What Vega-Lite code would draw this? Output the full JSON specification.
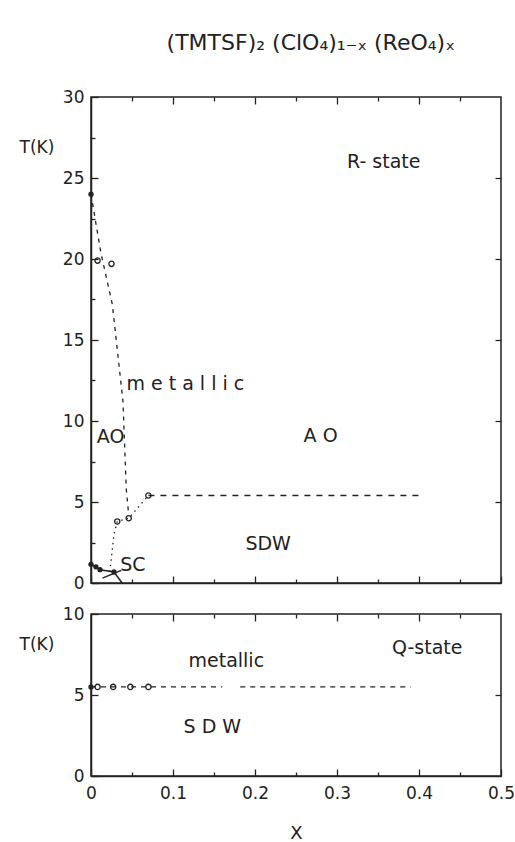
{
  "$schema": "https://vega.github.io/schema/vega-lite/v6.json",
  "background": "white",
  "padding": {"left": 18, "top": 32, "right": 10, "bottom": 0},
  "spacing": 12,
  "title": {"text": "(TMTSF)₂ (ClO₄)₁₋ₓ (ReO₄)ₓ", "fontSize": 22, "fontWeight": "normal", "font": "DejaVu Sans", "color": "#222", "anchor": "middle", "dx": 44, "offset": 32},
  "config": {
    "font": "DejaVu Sans",
    "view": {"stroke": "#222", "strokeWidth": 1.5},
    "axis": {"zindex": 1, "domainColor": "#222", "domainWidth": 1.5, "tickColor": "#222", "tickWidth": 1.3, "labelFontSize": 17, "labelColor": "#222", "grid": false, "titleFontWeight": "normal", "titleFontSize": 17, "titleColor": "#222", "labelBound": false, "labelFlush": false, "labelOverlap": false}
  },
  "datasets": {
    "lines": [
      {"curve": "ao", "x": 0, "T": 24},
      {"curve": "ao", "x": 0.012, "T": 20.4},
      {"curve": "ao", "x": 0.026, "T": 17.2},
      {"curve": "ao", "x": 0.039, "T": 11.2},
      {"curve": "ao", "x": 0.043, "T": 5.8},
      {"curve": "ao", "x": 0.046, "T": 4.2},
      {"curve": "sdwdot", "x": 0.023, "T": 0.7},
      {"curve": "sdwdot", "x": 0.028, "T": 3.0},
      {"curve": "sdwdot", "x": 0.032, "T": 3.8},
      {"curve": "sdwdot", "x": 0.046, "T": 4.0},
      {"curve": "sdwdot", "x": 0.07, "T": 5.4},
      {"curve": "sdwdash", "x": 0.07, "T": 5.4},
      {"curve": "sdwdash", "x": 0.4, "T": 5.4},
      {"curve": "sc", "x": 0, "T": 1.15},
      {"curve": "sc", "x": 0.006, "T": 1.0},
      {"curve": "sc", "x": 0.011, "T": 0.82},
      {"curve": "sc", "x": 0.028, "T": 0.68},
      {"curve": "sc", "x": 0.038, "T": 0},
      {"curve": "arrow", "x": 0.014, "T": 0.3},
      {"curve": "arrow", "x": 0.037, "T": 0.78},
      {"curve": "q1", "x": 0, "T": 5.5},
      {"curve": "q1", "x": 0.16, "T": 5.5},
      {"curve": "q2", "x": 0.182, "T": 5.5},
      {"curve": "q2", "x": 0.39, "T": 5.5}
    ],
    "points": [
      {"panel": "R", "kind": "filled", "x": 0, "T": 24},
      {"panel": "R", "kind": "open", "x": 0.008, "T": 19.9},
      {"panel": "R", "kind": "open", "x": 0.025, "T": 19.7},
      {"panel": "R", "kind": "open", "x": 0.032, "T": 3.8},
      {"panel": "R", "kind": "open", "x": 0.046, "T": 4.0},
      {"panel": "R", "kind": "open", "x": 0.07, "T": 5.4},
      {"panel": "R", "kind": "filled", "x": 0, "T": 1.15},
      {"panel": "R", "kind": "filled", "x": 0.006, "T": 1.0},
      {"panel": "R", "kind": "filled", "x": 0.011, "T": 0.82},
      {"panel": "R", "kind": "filled", "x": 0.028, "T": 0.68},
      {"panel": "Q", "kind": "filled", "x": 0, "T": 5.5},
      {"panel": "Q", "kind": "open", "x": 0.008, "T": 5.5},
      {"panel": "Q", "kind": "open", "x": 0.027, "T": 5.5},
      {"panel": "Q", "kind": "open", "x": 0.048, "T": 5.5},
      {"panel": "Q", "kind": "open", "x": 0.07, "T": 5.5}
    ],
    "labels": [
      {"panel": "R", "x": 0.357, "T": 26.0, "text": "R- state"},
      {"panel": "R", "x": 0.115, "T": 12.3, "text": "m  e  t  a  l  l  i  c"},
      {"panel": "R", "x": 0.024, "T": 9.0, "text": "AO"},
      {"panel": "R", "x": 0.28, "T": 9.1, "text": "A O"},
      {"panel": "R", "x": 0.216, "T": 2.4, "text": "SDW"},
      {"panel": "R", "x": 0.051, "T": 1.1, "text": "SC"},
      {"panel": "Q", "x": 0.165, "T": 7.1, "text": "metallic"},
      {"panel": "Q", "x": 0.41, "T": 7.9, "text": "Q-state"},
      {"panel": "Q", "x": 0.148, "T": 3.0, "text": "S D W"}
    ]
  },
  "vconcat": [
    {
      "width": 410,
      "height": 486,
      "resolve": {"axis": {"x": "independent", "y": "independent"}},
      "layer": [
        {
          "data": {"name": "lines"},
          "transform": [{"filter": "datum.curve === 'ao'"}],
          "mark": {"type": "line", "color": "#222", "strokeWidth": 1.3, "strokeDash": [4, 5]},
          "encoding": {
            "x": {"field": "x", "type": "quantitative", "scale": {"domain": [0, 0.5], "nice": false, "zero": false},
              "axis": {"orient": "bottom", "labels": false, "title": null, "minExtent": 0, "maxExtent": 0, "values": [0, 0.05, 0.1, 0.15, 0.2, 0.25, 0.3, 0.35, 0.4, 0.45, 0.5],
                "tickSize": {"condition": {"test": "abs(datum.value*10-round(datum.value*10))<0.001", "value": -7}, "value": -4}}},
            "y": {"field": "T", "type": "quantitative", "scale": {"domain": [0, 30], "nice": false, "zero": false},
              "axis": {"orient": "left", "title": "T(K)", "titleAngle": 0, "titleAlign": "left", "titleBaseline": "middle", "titleX": -72, "titleY": 50,
                "values": [0, 2.5, 5, 7.5, 10, 12.5, 15, 17.5, 20, 22.5, 25, 27.5, 30],
                "labelExpr": "datum.value % 5 === 0 ? datum.label : ''",
                "labelPadding": 14,
                "tickSize": {"condition": {"test": "datum.value % 5 === 0", "value": -7}, "value": -4}}}
          }
        },
        {
          "data": {"name": "lines"},
          "transform": [{"filter": "datum.curve === 'ao'"}],
          "mark": {"type": "point", "opacity": 0},
          "encoding": {
            "x": {"field": "x", "type": "quantitative",
              "axis": {"orient": "top", "labels": false, "title": null, "domain": false, "minExtent": 0, "maxExtent": 0, "values": [0.05, 0.1, 0.15, 0.2, 0.25, 0.3, 0.35, 0.4, 0.45],
                "tickSize": {"condition": {"test": "abs(datum.value*10-round(datum.value*10))<0.001", "value": -7}, "value": -4}}},
            "y": {"field": "T", "type": "quantitative",
              "axis": {"orient": "right", "labels": false, "title": null, "domain": false, "minExtent": 0, "maxExtent": 0, "values": [5, 10, 15, 20, 25], "tickSize": -6}}
          }
        },
        {
          "data": {"name": "lines"},
          "transform": [{"filter": "datum.curve === 'sdwdot'"}],
          "mark": {"type": "line", "color": "#222", "strokeWidth": 1.3, "strokeDash": [1.5, 4]},
          "encoding": {"x": {"field": "x", "type": "quantitative", "axis": null}, "y": {"field": "T", "type": "quantitative", "axis": null}}
        },
        {
          "data": {"name": "lines"},
          "transform": [{"filter": "datum.curve === 'sdwdash'"}],
          "mark": {"type": "line", "color": "#222", "strokeWidth": 1.3, "strokeDash": [6, 6]},
          "encoding": {"x": {"field": "x", "type": "quantitative", "axis": null}, "y": {"field": "T", "type": "quantitative", "axis": null}}
        },
        {
          "data": {"name": "lines"},
          "transform": [{"filter": "datum.curve === 'sc' || datum.curve === 'arrow'"}],
          "mark": {"type": "line", "color": "#222", "strokeWidth": 1.5},
          "encoding": {"x": {"field": "x", "type": "quantitative", "axis": null}, "y": {"field": "T", "type": "quantitative", "axis": null}, "detail": {"field": "curve"}}
        },
        {
          "data": {"name": "points"},
          "transform": [{"filter": "datum.panel === 'R' && datum.kind === 'filled'"}],
          "mark": {"type": "point", "filled": true, "color": "#222", "size": 28, "opacity": 1},
          "encoding": {"x": {"field": "x", "type": "quantitative", "axis": null}, "y": {"field": "T", "type": "quantitative", "axis": null}}
        },
        {
          "data": {"name": "points"},
          "transform": [{"filter": "datum.panel === 'R' && datum.kind === 'open'"}],
          "mark": {"type": "point", "filled": false, "color": "#222", "size": 28, "strokeWidth": 1.3, "opacity": 1},
          "encoding": {"x": {"field": "x", "type": "quantitative", "axis": null}, "y": {"field": "T", "type": "quantitative", "axis": null}}
        },
        {
          "data": {"name": "labels"},
          "transform": [{"filter": "datum.panel === 'R'"}],
          "mark": {"type": "text", "fontSize": 19, "color": "#222", "align": "center", "baseline": "middle"},
          "encoding": {"x": {"field": "x", "type": "quantitative", "axis": null}, "y": {"field": "T", "type": "quantitative", "axis": null}, "text": {"field": "text"}}
        }
      ]
    },
    {
      "width": 410,
      "height": 162,
      "resolve": {"axis": {"x": "independent", "y": "independent"}},
      "layer": [
        {
          "data": {"name": "lines"},
          "transform": [{"filter": "datum.curve === 'q1' || datum.curve === 'q2'"}],
          "mark": {"type": "line", "color": "#222", "strokeWidth": 1.3, "strokeDash": [5, 5]},
          "encoding": {
            "detail": {"field": "curve"},
            "x": {"field": "x", "type": "quantitative", "scale": {"domain": [0, 0.5], "nice": false, "zero": false},
              "axis": {"orient": "bottom", "title": "X", "titlePadding": 20, "titleFontSize": 18,
                "values": [0, 0.05, 0.1, 0.15, 0.2, 0.25, 0.3, 0.35, 0.4, 0.45, 0.5],
                "labelExpr": "abs(datum.value*10-round(datum.value*10))<0.001 ? format(datum.value, '.1~f') : ''",
                "labelPadding": 16,
                "tickSize": {"condition": {"test": "abs(datum.value*10-round(datum.value*10))<0.001", "value": -7}, "value": -4}}},
            "y": {"field": "T", "type": "quantitative", "scale": {"domain": [0, 10], "nice": false, "zero": false},
              "axis": {"orient": "left", "title": "T(K)", "titleAngle": 0, "titleAlign": "left", "titleBaseline": "middle", "titleX": -72, "titleY": 30,
                "values": [0, 5, 10], "labelPadding": 14, "tickSize": -7}}
          }
        },
        {
          "data": {"name": "lines"},
          "transform": [{"filter": "datum.curve === 'q1'"}],
          "mark": {"type": "point", "opacity": 0},
          "encoding": {
            "x": {"field": "x", "type": "quantitative",
              "axis": {"orient": "top", "labels": false, "title": null, "domain": false, "minExtent": 0, "maxExtent": 0, "values": [0.05, 0.1, 0.15, 0.2, 0.25, 0.3, 0.35, 0.4, 0.45],
                "tickSize": {"condition": {"test": "abs(datum.value*10-round(datum.value*10))<0.001", "value": -7}, "value": -4}}},
            "y": {"field": "T", "type": "quantitative",
              "axis": {"orient": "right", "labels": false, "title": null, "domain": false, "minExtent": 0, "maxExtent": 0, "values": [5], "tickSize": -6}}
          }
        },
        {
          "data": {"name": "points"},
          "transform": [{"filter": "datum.panel === 'Q' && datum.kind === 'filled'"}],
          "mark": {"type": "point", "filled": true, "color": "#222", "size": 28, "opacity": 1},
          "encoding": {"x": {"field": "x", "type": "quantitative", "axis": null}, "y": {"field": "T", "type": "quantitative", "axis": null}}
        },
        {
          "data": {"name": "points"},
          "transform": [{"filter": "datum.panel === 'Q' && datum.kind === 'open'"}],
          "mark": {"type": "point", "filled": false, "color": "#222", "size": 28, "strokeWidth": 1.3, "opacity": 1},
          "encoding": {"x": {"field": "x", "type": "quantitative", "axis": null}, "y": {"field": "T", "type": "quantitative", "axis": null}}
        },
        {
          "data": {"name": "labels"},
          "transform": [{"filter": "datum.panel === 'Q'"}],
          "mark": {"type": "text", "fontSize": 19, "color": "#222", "align": "center", "baseline": "middle"},
          "encoding": {"x": {"field": "x", "type": "quantitative", "axis": null}, "y": {"field": "T", "type": "quantitative", "axis": null}, "text": {"field": "text"}}
        }
      ]
    }
  ]
}
